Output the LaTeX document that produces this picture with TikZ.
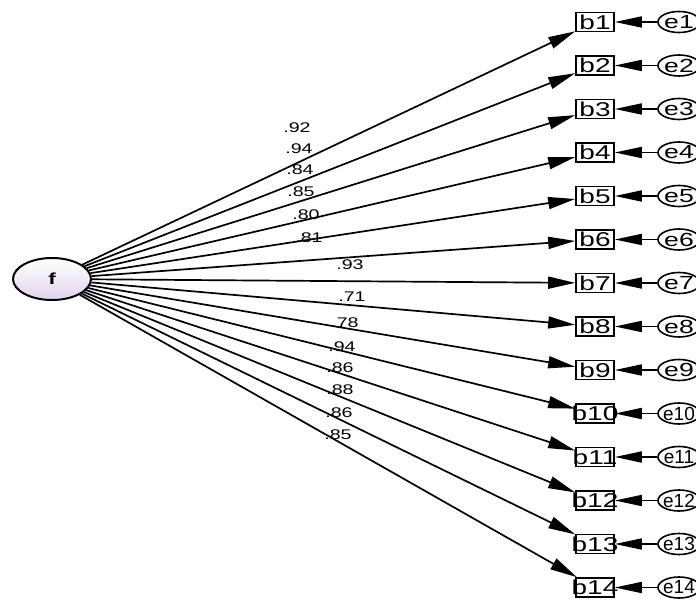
\documentclass[tikz,border=0pt]{standalone}
\usepackage{fontspec}
\setmainfont{Liberation Sans}
\newfontfamily\widefont[FakeStretch=1.4]{Liberation Sans}
\newfontfamily\narrowfont{Liberation Sans}
\usetikzlibrary{arrows.meta,shapes.geometric}
\definecolor{flav}{RGB}{226,212,240}
\newcommand{\ctext}[1]{\makebox[0pt]{#1}}
\newcommand{\elabel}[1]{\ifnum#1>9 \ctext{\narrowfont\fontsize{19}{19}\selectfont e#1}\else\ctext{e#1}\fi}
\tikzset{
  latent/.style={ellipse,draw,line width=2pt,minimum width=78pt,minimum height=42pt,
    top color=white,bottom color=flav,font=\widefont\fontsize{16}{16}\selectfont\bfseries},
  obsbox/.style={rectangle,draw,line width=1.6pt,minimum width=38pt,minimum height=19pt,
    inner sep=0pt,fill=white,font=\widefont\fontsize{20}{20}\selectfont},
  errnode/.style={ellipse,draw,line width=1.6pt,minimum width=42pt,minimum height=21pt,
    inner sep=0pt,fill=white,font=\widefont\fontsize{19}{19}\selectfont},
  loadpath/.style={line width=1.7pt,-{Triangle[length=27pt,width=12pt]}},
  errpath/.style={line width=1.7pt,-{Triangle[length=27pt,width=11pt]}},
  coef/.style={font=\widefont\fontsize{14}{14}\selectfont,inner sep=0pt}
}
\begin{document}
\begin{tikzpicture}[x=1pt,y=-1pt]
\useasboundingbox (0,0) rectangle (696,601);
\node[latent] (f) at (52,279) {f};
% observed items and their errors
\foreach \i in {1,...,14}{
  \node[obsbox] (b\i) at (595,{22+(\i-1)*43.5}) {\ctext{b\i}};
  \node[errnode] (e\i) at (679,{22+(\i-1)*43.5}) {\elabel{\i}};
  \draw[loadpath] (f) -- (b\i);
  \draw[errpath] (e\i) -- (b\i);
}
% standardized loadings
\foreach \v/\x/\y [count=\k] in {.92/297/128,.94/299/149,.84/300/170,.85/301/192,.80/306/215,.81/309/238,
  .93/350/265,.71/352/297,.78/345/323,.94/342/347,.86/340/368,.88/340/390,.86/339/413,.85/338/435}
  \node[coef] (l\k) at (\x,\y) {\v};
\end{tikzpicture}
\end{document}
